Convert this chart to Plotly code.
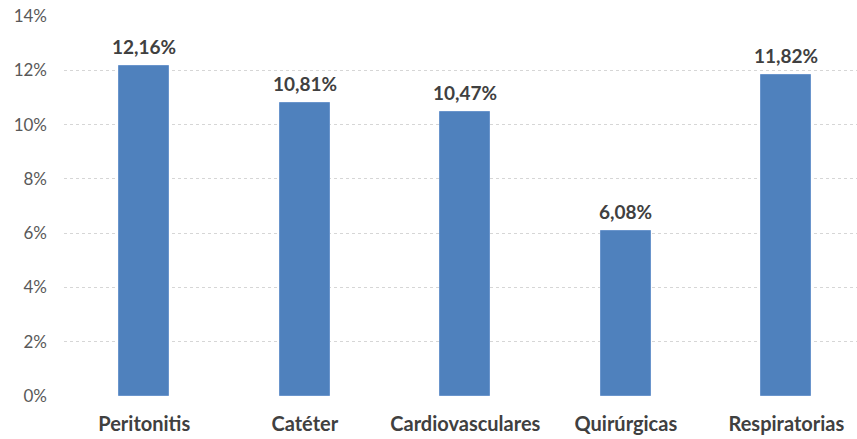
import plotly.graph_objects as go

categories = ["Peritonitis", "Catéter", "Cardiovasculares", "Quirúrgicas", "Respiratorias"]
values = [12.16, 10.81, 10.47, 6.08, 11.82]
y_ticks = [0, 2, 4, 6, 8, 10, 12, 14]
y_tick_labels = [f"{v}%" for v in y_ticks]

fig = go.Figure(go.Bar(
    x=categories, y=values,
    marker=dict(color="#4F81BD", line=dict(color="#6A95CC", width=1)),
    width=0.31,
    hoverinfo="skip",
))

for c, v in zip(categories, values):
    fig.add_annotation(
        x=c, y=v, text=f"{v:.2f}%".replace(".", ","),
        showarrow=False, yanchor="bottom", yshift=6,
        font=dict(family="Lato", size=19, color="#404040", weight="bold"),
    )

fig.update_layout(
    width=857, height=439,
    margin=dict(l=64, r=0, t=16, b=43),
    paper_bgcolor="white", plot_bgcolor="white",
    showlegend=False,
    font=dict(family="Lato"),
    bargap=0,
)
fig.update_xaxes(
    range=[-0.5, 4.44],
    showgrid=False, showline=False, zeroline=False,
    tickfont=dict(family="Lato", size=20, color="#404040", weight="bold"),
    ticklabelstandoff=14,
)
fig.update_yaxes(
    range=[0, 14], tickvals=y_ticks, ticktext=y_tick_labels,
    showgrid=True, gridcolor="#D6D6D6", griddash="dot", gridwidth=1,
    zeroline=False, showline=False,
    tickfont=dict(family="Lato", size=17, color="#595959"),
    ticklabelstandoff=16,
)

fig.write_html("out.html", config={"displayModeBar": False},
               post_script="document.body.style.margin='0';")
